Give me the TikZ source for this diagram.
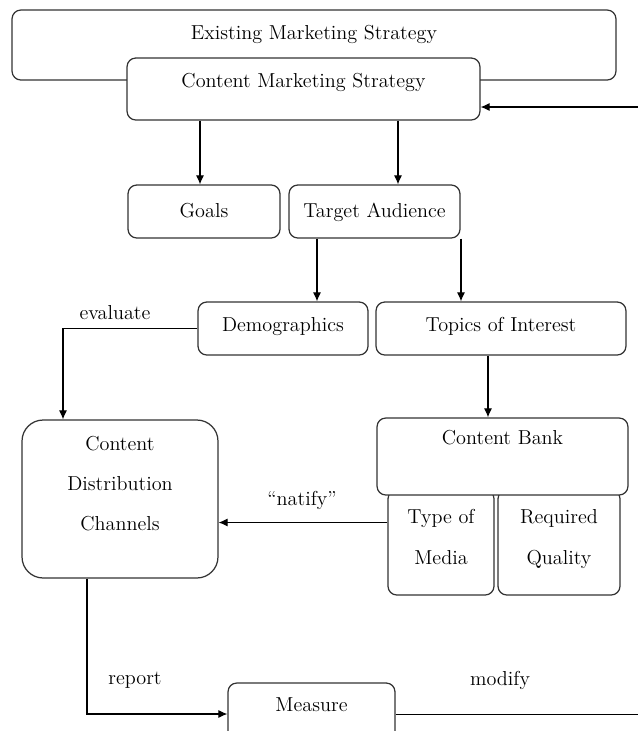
\documentclass[tikz,border=0pt]{standalone}
\usepackage{tikz}
\usetikzlibrary{arrows.meta,positioning}

\begin{document}
\begin{tikzpicture}[
  x=0.02cm, y=-0.02cm,
  font=\fontsize{11.5}{13.5}\selectfont,
  box/.style={draw=black!80, line width=0.7pt, rounded corners=5pt, fill=white, align=center, inner sep=0pt},
  lift/.style={text height=0.28cm, text depth=#1},
  arrow/.style={-{Latex[length=1.8mm, width=1.6mm]}, line width=0.6pt},
  lbl/.style={inner sep=1pt}
]
\useasboundingbox (0,0) rectangle (638,731);
\clip (0,0) rectangle (638,731);
% boxes
\node[box, minimum width=12.08cm, minimum height=1.4cm, lift=0.52cm] (ems) at (314,45) {Existing Marketing Strategy};
\node[box, minimum width=7.06cm, minimum height=1.24cm, lift=0.36cm] (cms) at (303.5,89) {Content Marketing Strategy};
\node[box, minimum width=3.04cm, minimum height=1.06cm, lift=0.06cm] (goals) at (204,211.5) {Goals};
\node[box, minimum width=3.42cm, minimum height=1.06cm, lift=0.06cm] (target) at (374.5,211.5) {Target Audience};
\node[box, minimum width=3.4cm, minimum height=1.06cm, lift=0.16cm] (demo) at (283,328.5) {Demographics};
\node[box, minimum width=5.0cm, minimum height=1.06cm, lift=0.16cm] (topics) at (501,328.5) {Topics of Interest};
\node[box, rounded corners=12pt, minimum width=3.92cm, minimum height=3.16cm] (cdc) at (120,499)
  {\raisebox{0.16cm}[0pt][0pt]{\begin{tabular}{@{}c@{}}Content\\[0.32cm] Distribution\\[0.32cm] Channels\end{tabular}}};
\node[box, minimum width=2.12cm, minimum height=2.1cm] (media) at (441,542.5)
  {\raisebox{-0.04cm}[0pt][0pt]{\begin{tabular}{@{}c@{}}Type of\\[0.34cm] Media\end{tabular}}};
\node[box, minimum width=2.44cm, minimum height=2.1cm] (quality) at (559,542.5)
  {\raisebox{-0.04cm}[0pt][0pt]{\begin{tabular}{@{}c@{}}Required\\[0.34cm] Quality\end{tabular}}};
\node[box, minimum width=5.02cm, minimum height=1.54cm, lift=0.78cm] (bank) at (502.5,456.5) {Content Bank};
\node[box, minimum width=3.34cm, minimum height=1.24cm, lift=0.4cm] (measure) at (311.5,714) {Measure};
% labels
\node[lbl] (evaluate) at (115,313) {evaluate};
\node[lbl] (natify) at (302,500) {``natify''};
\node[lbl] (report) at (135,680) {report};
\node[lbl] (modify) at (500,680) {modify};
% edge points
\coordinate (evalx) at (63,0);
\coordinate (fbk) at (638,107);
\coordinate (rgt) at (638,714);
% connectors
\draw[arrow] (cms.south -| 200,0) -- (goals.north -| 200,0);
\draw[arrow] (cms.south -| 398,0) -- (target.north -| 398,0);
\draw[arrow] (target.south -| 317,0) -- (demo.north -| 317,0);
\draw[arrow] (target.south -| 461,0) -- (topics.north -| 461,0);
\draw[arrow] (topics.south -| 488,0) -- (bank.north -| 488,0);
\draw[arrow] (demo.west) -| (cdc.north -| evalx);
\draw[arrow] ([yshift=0.4cm]media.west) -- ([yshift=0.4cm]media.west -| cdc.east);
\draw[arrow] ([xshift=-0.66cm]cdc.south) |- (measure.west);
\draw (measure.east) -- (rgt);
\draw[arrow] (fbk) -- (fbk -| cms.east);
\end{tikzpicture}
\end{document}
